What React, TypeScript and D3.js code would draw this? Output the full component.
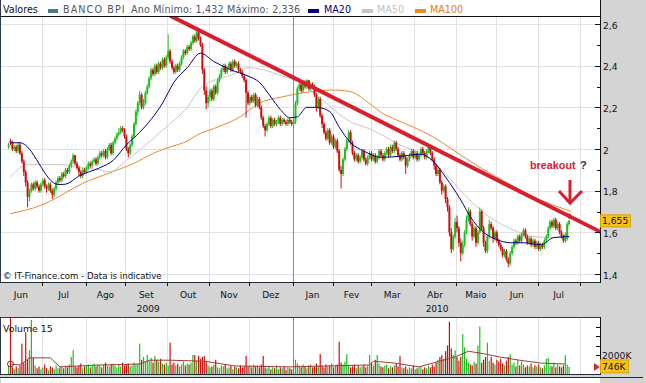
import React from "react";
import * as d3 from "d3";

// ---- data (trading-day index from Mon 1 Jun 2009) ----
const START_INDEX = 4;
const closes = [
  2.02, 2.03, 2.0, 2.01, 1.99, 2.02, 1.98,
  1.94, 1.89, 1.84, 1.77,
  1.8, 1.83, 1.81, 1.84, 1.82, 1.8, 1.83, 1.85, 1.82, 1.81, 1.83, 1.8, 1.78, 1.81,
  1.84, 1.86, 1.85, 1.88, 1.87, 1.9, 1.89, 1.92, 1.94, 1.97,
  1.93, 1.91, 1.89, 1.87,
  1.9, 1.89, 1.91, 1.93, 1.92, 1.94, 1.95, 1.93, 1.96, 1.98, 1.97, 1.99, 1.96, 2.0, 2.02, 1.98, 2.03, 2.05, 2.07, 2.08, 2.1, 2.09, 2.06,
  2.0, 1.98,
  2.02, 2.06, 2.12, 2.18, 2.22, 2.26, 2.2, 2.22, 2.27, 2.3,
  2.34, 2.38, 2.36, 2.4, 2.37, 2.41, 2.39, 2.43, 2.4, 2.44, 2.47,
  2.42, 2.39, 2.37, 2.4, 2.38, 2.41,
  2.44, 2.47, 2.46, 2.49, 2.48, 2.51, 2.54, 2.52, 2.56, 2.53, 2.5,
  2.38, 2.28, 2.22,
  2.25, 2.28, 2.24, 2.3, 2.27, 2.33, 2.35,
  2.38, 2.4, 2.37, 2.39, 2.41, 2.38, 2.42, 2.4, 2.41, 2.38, 2.37,
  2.35, 2.33,
  2.27, 2.22, 2.25, 2.23, 2.26, 2.21, 2.24, 2.2,
  2.15, 2.11, 2.09,
  2.12, 2.15, 2.11, 2.14, 2.12, 2.13, 2.15, 2.12, 2.14, 2.13, 2.12, 2.14, 2.13, 2.12, 2.13,
  2.22, 2.29,
  2.31, 2.28, 2.32, 2.3, 2.33, 2.29, 2.31, 2.3,
  2.26, 2.2, 2.24, 2.16, 2.12,
  2.08, 2.05, 2.09, 2.03, 2.06, 2.01, 2.04, 1.99,
  1.9, 1.88,
  1.95, 2.0, 2.04, 2.08, 2.03,
  1.98, 1.95, 1.97, 1.94, 1.96, 1.99, 1.95, 1.93, 1.96, 1.98, 1.95, 1.97, 1.94, 1.96, 1.99, 1.97, 1.95, 1.98, 2.0, 1.97, 2.01,
  1.99, 2.03, 2.0, 1.97, 1.95, 1.98, 1.96, 1.92, 1.95, 1.97, 1.99, 1.96, 1.98, 1.95, 1.97, 2.0, 1.98, 1.96, 1.99, 2.01, 1.98,
  1.95, 1.92, 1.88, 1.9, 1.84, 1.8, 1.82, 1.76, 1.72,
  1.6, 1.52, 1.58, 1.65, 1.62, 1.55, 1.5, 1.54,
  1.6, 1.66, 1.7, 1.64, 1.58, 1.62, 1.55, 1.6, 1.7,
  1.62, 1.55, 1.51, 1.58, 1.64, 1.62, 1.57, 1.6, 1.56,
  1.54, 1.52, 1.49, 1.51, 1.47, 1.45,
  1.5, 1.53, 1.56, 1.55, 1.58, 1.56, 1.59, 1.61, 1.58, 1.55, 1.57, 1.54, 1.56, 1.53, 1.55, 1.52, 1.54, 1.53, 1.56, 1.58,
  1.62, 1.65, 1.63, 1.66, 1.62, 1.64, 1.6,
  1.58, 1.56, 1.59, 1.64, 1.655,
];
const opens = [
  2.01, 2.04, 2.03, 2.0, 2.01, 1.99, 2.02,
  1.98, 1.94, 1.89, 1.84,
  1.77, 1.8, 1.83, 1.81, 1.84, 1.82, 1.8, 1.83, 1.85, 1.82, 1.81, 1.83, 1.8, 1.78,
  1.81, 1.84, 1.86, 1.85, 1.88, 1.87, 1.9, 1.89, 1.92, 1.94,
  1.97, 1.93, 1.91, 1.89,
  1.87, 1.9, 1.89, 1.91, 1.93, 1.92, 1.94, 1.95, 1.93, 1.96, 1.98, 1.97, 1.99, 1.96, 2.0, 2.02, 1.98, 2.03, 2.05, 2.07, 2.08, 2.1, 2.09,
  2.06, 2.0,
  1.98, 2.02, 2.06, 2.12, 2.18, 2.22, 2.26, 2.2, 2.22, 2.27,
  2.3, 2.34, 2.38, 2.36, 2.4, 2.37, 2.41, 2.39, 2.43, 2.4, 2.44,
  2.47, 2.42, 2.39, 2.37, 2.4, 2.38,
  2.41, 2.44, 2.47, 2.46, 2.49, 2.48, 2.51, 2.54, 2.52, 2.56, 2.53,
  2.5, 2.38, 2.28,
  2.22, 2.25, 2.28, 2.24, 2.3, 2.27, 2.33,
  2.35, 2.38, 2.4, 2.37, 2.39, 2.41, 2.38, 2.42, 2.4, 2.41, 2.38,
  2.37, 2.35,
  2.33, 2.27, 2.22, 2.25, 2.23, 2.26, 2.21, 2.24,
  2.2, 2.15, 2.11,
  2.09, 2.12, 2.15, 2.11, 2.14, 2.12, 2.13, 2.15, 2.12, 2.14, 2.13, 2.12, 2.14, 2.13, 2.12,
  2.13, 2.22,
  2.29, 2.31, 2.28, 2.32, 2.3, 2.33, 2.29, 2.31,
  2.3, 2.26, 2.2, 2.24, 2.16,
  2.12, 2.08, 2.05, 2.09, 2.03, 2.06, 2.01, 2.04,
  1.99, 1.9,
  1.88, 1.95, 2.0, 2.04, 2.08,
  2.03, 1.98, 1.95, 1.97, 1.94, 1.96, 1.99, 1.95, 1.93, 1.96, 1.98, 1.95, 1.97, 1.94, 1.96, 1.99, 1.97, 1.95, 1.98, 2.0, 1.97,
  2.01, 1.99, 2.03, 2.0, 1.97, 1.95, 1.98, 1.96, 1.92, 1.95, 1.97, 1.99, 1.96, 1.98, 1.95, 1.97, 2.0, 1.98, 1.96, 1.99, 2.01,
  1.98, 1.95, 1.92, 1.88, 1.9, 1.84, 1.8, 1.82, 1.76,
  1.72, 1.6, 1.52, 1.58, 1.65, 1.62, 1.55, 1.5,
  1.54, 1.6, 1.66, 1.7, 1.64, 1.58, 1.62, 1.55, 1.6,
  1.7, 1.62, 1.55, 1.51, 1.58, 1.64, 1.62, 1.57, 1.6,
  1.56, 1.54, 1.52, 1.49, 1.51, 1.47,
  1.45, 1.5, 1.53, 1.56, 1.55, 1.58, 1.56, 1.59, 1.61, 1.58, 1.55, 1.57, 1.54, 1.56, 1.53, 1.55, 1.52, 1.54, 1.53, 1.56,
  1.58, 1.62, 1.65, 1.63, 1.66, 1.62, 1.64,
  1.6, 1.58, 1.56, 1.57, 1.64,
];
const highs = [
  2.03, 2.05, 2.04, 2.02, 2.02, 2.03, 2.03,
  1.99, 1.95, 1.9, 1.85,
  1.81, 1.84, 1.84, 1.85, 1.85, 1.83, 1.84, 1.86, 1.86, 1.83, 1.84, 1.84, 1.81, 1.82,
  1.85, 1.87, 1.87, 1.89, 1.89, 1.91, 1.91, 1.93, 1.95, 1.98,
  1.97, 1.94, 1.92, 1.9,
  1.91, 1.91, 1.92, 1.94, 1.94, 1.95, 1.96, 1.96, 1.97, 1.99, 1.99, 2.0, 2.0, 2.01, 2.03, 2.03, 2.04, 2.06, 2.08, 2.1, 2.11, 2.11, 2.1,
  2.07, 2.01,
  2.03, 2.07, 2.13, 2.19, 2.23, 2.28, 2.27, 2.24, 2.28, 2.31,
  2.35, 2.39, 2.39, 2.41, 2.41, 2.42, 2.42, 2.44, 2.44, 2.45, 2.55,
  2.48, 2.43, 2.4, 2.41, 2.41, 2.42,
  2.45, 2.48, 2.48, 2.5, 2.5, 2.52, 2.55, 2.55, 2.58, 2.57, 2.54,
  2.51, 2.39, 2.3,
  2.26, 2.29, 2.29, 2.31, 2.31, 2.34, 2.36,
  2.39, 2.41, 2.41, 2.4, 2.42, 2.42, 2.43, 2.43, 2.42, 2.42, 2.39,
  2.38, 2.36,
  2.34, 2.28, 2.26, 2.26, 2.27, 2.27, 2.25, 2.25,
  2.21, 2.16, 2.12,
  2.13, 2.16, 2.16, 2.15, 2.15, 2.14, 2.16, 2.16, 2.15, 2.15, 2.14, 2.15, 2.15, 2.14, 2.14,
  2.23, 2.3,
  2.32, 2.32, 2.33, 2.33, 2.336, 2.33, 2.32, 2.32,
  2.31, 2.27, 2.25, 2.25, 2.17,
  2.13, 2.09, 2.1, 2.1, 2.07, 2.07, 2.05, 2.05,
  2.0, 1.92,
  1.96, 2.01, 2.05, 2.09, 2.09,
  2.04, 1.99, 1.98, 1.98, 1.97, 2.0, 2.0, 1.96, 1.97, 1.99, 1.99, 1.98, 1.98, 1.97, 2.0, 2.0, 1.98, 1.99, 2.01, 2.01, 2.02,
  2.02, 2.04, 2.04, 2.01, 1.98, 1.99, 1.99, 1.97, 1.96, 1.98, 2.0, 2.0, 1.99, 1.99, 1.98, 2.01, 2.01, 1.99, 2.0, 2.02, 2.02,
  1.99, 1.96, 1.93, 1.91, 1.91, 1.85, 1.83, 1.83, 1.77,
  1.73, 1.62, 1.59, 1.67, 1.68, 1.63, 1.57, 1.56,
  1.61, 1.68, 1.72, 1.71, 1.65, 1.63, 1.63, 1.61, 1.72,
  1.71, 1.63, 1.56, 1.59, 1.66, 1.65, 1.63, 1.61, 1.61,
  1.57, 1.55, 1.53, 1.52, 1.52, 1.48,
  1.51, 1.54, 1.57, 1.57, 1.59, 1.59, 1.6, 1.62, 1.62, 1.59, 1.58, 1.58, 1.57, 1.57, 1.56, 1.56, 1.55, 1.55, 1.57, 1.59,
  1.63, 1.66, 1.66, 1.67, 1.67, 1.65, 1.65,
  1.61, 1.59, 1.6, 1.65, 1.66,
];
const lows = [
  2.0, 2.02, 1.99, 1.99, 1.98, 1.98, 1.97,
  1.93, 1.87, 1.82, 1.72,
  1.75, 1.79, 1.8, 1.8, 1.81, 1.79, 1.79, 1.82, 1.81, 1.79, 1.8, 1.79, 1.76, 1.77,
  1.8, 1.83, 1.84, 1.84, 1.86, 1.86, 1.88, 1.88, 1.91, 1.93,
  1.92, 1.9, 1.87, 1.86,
  1.86, 1.88, 1.88, 1.9, 1.91, 1.91, 1.93, 1.92, 1.92, 1.95, 1.96, 1.96, 1.95, 1.95, 1.99, 1.97, 1.97, 2.02, 2.04, 2.06, 2.07, 2.08, 2.05,
  1.99, 1.96,
  1.97, 2.01, 2.05, 2.11, 2.16, 2.21, 2.19, 2.19, 2.21, 2.26,
  2.29, 2.33, 2.35, 2.35, 2.36, 2.36, 2.38, 2.38, 2.39, 2.39, 2.43,
  2.41, 2.38, 2.36, 2.36, 2.37, 2.37,
  2.4, 2.43, 2.45, 2.45, 2.47, 2.47, 2.5, 2.51, 2.51, 2.52, 2.49,
  2.36, 2.26, 2.19,
  2.2, 2.23, 2.23, 2.23, 2.26, 2.26, 2.32,
  2.34, 2.37, 2.36, 2.36, 2.38, 2.37, 2.37, 2.39, 2.39, 2.37, 2.36,
  2.34, 2.32,
  2.15, 2.21, 2.21, 2.22, 2.22, 2.2, 2.2, 2.19,
  2.14, 2.1, 2.06,
  2.08, 2.11, 2.1, 2.1, 2.11, 2.11, 2.12, 2.11, 2.11, 2.12, 2.11, 2.11, 2.12, 2.11, 2.11,
  2.12, 2.21,
  2.28, 2.27, 2.27, 2.29, 2.29, 2.28, 2.28, 2.29,
  2.25, 2.18, 2.19, 2.15, 2.1,
  2.07, 2.04, 2.04, 2.02, 2.02, 2.0, 2.0, 1.98,
  1.89, 1.81,
  1.87, 1.94, 1.99, 2.03, 2.02,
  1.97, 1.94, 1.94, 1.93, 1.93, 1.95, 1.94, 1.92, 1.92, 1.95, 1.94, 1.94, 1.93, 1.93, 1.95, 1.96, 1.94, 1.94, 1.97, 1.96, 1.96,
  1.98, 1.98, 1.99, 1.96, 1.94, 1.94, 1.95, 1.88, 1.91, 1.94, 1.96, 1.95, 1.95, 1.94, 1.94, 1.96, 1.97, 1.95, 1.95, 1.98, 1.97,
  1.94, 1.9, 1.87, 1.87, 1.83, 1.78, 1.79, 1.74, 1.7,
  1.58, 1.5, 1.51, 1.57, 1.6, 1.53, 1.46, 1.49,
  1.53, 1.59, 1.65, 1.63, 1.56, 1.57, 1.53, 1.54, 1.59,
  1.61, 1.53, 1.5, 1.5, 1.57, 1.61, 1.55, 1.56, 1.55,
  1.53, 1.51, 1.48, 1.48, 1.46, 1.432,
  1.44, 1.49, 1.52, 1.54, 1.54, 1.55, 1.55, 1.58, 1.57, 1.54, 1.54, 1.53, 1.53, 1.52, 1.52, 1.51, 1.51, 1.52, 1.52, 1.55,
  1.57, 1.61, 1.62, 1.62, 1.61, 1.61, 1.59,
  1.57, 1.55, 1.55, 1.56, 1.63,
];

const volumes = [
  900, 6200, 700, 500, 800, 600, 900,
  3200, 1200, 4400, 1500, 2500, 5700,
  1700, 900, 600, 800, 500, 700, 1000, 600, 400, 800, 700, 500, 900, 600,
  700, 800, 600, 900, 700, 1000,
  1800, 2500,
  800, 700, 900, 1100, 600, 800, 900, 1000, 700, 900, 1100, 800, 1000, 900, 700, 1000, 1200, 900, 800, 1000,
  1100, 900, 700, 1000, 800, 1200, 900, 1000, 1100, 800, 900, 1200, 1000, 1100,
  3200, 1500, 1800, 1300, 2000, 1400, 1700, 1200, 1900, 1500, 1300, 1600,
  1100, 1000, 1200, 900,
  3300,
  1000, 1200, 900, 1100, 800, 1000, 1300, 900, 1100, 1000, 1200,
  2000, 2000, 1400, 1900, 1600, 1800, 1900, 1300,
  900, 700, 800, 1000, 1500, 700, 600, 900, 800, 1000, 600, 700, 900, 500, 800, 700, 600, 900, 700, 800,
  1900,
  800, 900, 700, 1000, 800, 900, 700, 1000,
  1900,
  700, 600, 800, 500, 700, 600, 900, 500, 700, 600, 800, 400, 700, 600, 500, 800,
  1500,
  1100, 900, 700, 1000, 800, 600, 900, 1000, 700, 800, 1100, 900,
  2100,
  900, 700, 1000, 800, 900, 1100, 700, 900, 1000,
  3400,
  1200, 1000, 1300,
  2100,
  900, 700, 800, 1000, 600, 900, 700, 800, 1000, 700, 900,
  2000, 1200, 900, 1500, 2000, 1100,
  800, 700, 900, 1000, 600, 800, 700, 900, 1100, 800,
  1900,
  700, 600, 800, 500, 700, 600, 900, 500, 600, 700, 800, 500, 700, 600, 900, 700, 1000, 800,
  1200, 1500, 1800, 2000, 1600, 2400, 3000,
  5500,
  2700, 2000, 2500, 1800, 1400, 1800, 4200, 2800, 1600, 1200, 1000, 900, 1300, 1100, 3000, 5000, 1200, 1500, 1800, 3300,
  1400, 1800, 1200, 1000, 1500, 1300, 1600, 1100, 900, 1400, 1800, 2100, 1000, 1200, 800, 1500, 900, 1300, 1000, 700,
  900, 800, 1100, 700, 900, 800, 1000, 700, 600, 900, 1600, 1700, 900, 800, 1200, 700, 1000, 800, 700, 900,
  2000, 1000, 746,
];

const ma20: [number, number][] = [[5, 2.03], [10, 2.03], [30, 1.83], [33, 1.83], [42, 1.875], [52, 1.91], [59, 1.945], [66, 2.02], [73, 2.08], [85, 2.22], [91, 2.32], [98, 2.39], [105, 2.46], [112, 2.42], [121, 2.38], [130, 2.35], [136, 2.32], [142, 2.25], [147, 2.19], [152, 2.15], [156, 2.155], [161, 2.2], [166, 2.2], [173, 2.18], [178, 2.105], [184, 2.03], [191, 1.99], [200, 1.96], [210, 1.965], [221, 1.975], [227, 1.945], [234, 1.865], [242, 1.755], [247, 1.675], [254, 1.6], [261, 1.565], [268, 1.55], [275, 1.55], [284, 1.54], [291, 1.575], [299, 1.58]];
const ma50: [number, number][] = [[5, 1.865], [14, 1.925], [33, 1.925], [38, 1.915], [52, 1.9], [57, 1.89], [66, 1.945], [73, 1.995], [85, 2.09], [98, 2.2], [106, 2.3], [121, 2.355], [130, 2.39], [138, 2.38], [148, 2.35], [157, 2.32], [166, 2.26], [175, 2.19], [184, 2.13], [193, 2.1], [200, 2.07], [210, 2.02], [221, 1.98], [227, 1.945], [236, 1.86], [245, 1.77], [257, 1.675], [270, 1.61], [280, 1.58], [291, 1.575], [299, 1.575]];
const ma100: [number, number][] = [[5, 1.69], [21, 1.73], [27, 1.755], [43, 1.835], [57, 1.885], [72, 1.94], [78, 1.97], [89, 2.01], [96, 2.03], [105, 2.075], [114, 2.105], [126, 2.155], [136, 2.22], [148, 2.25], [163, 2.275], [175, 2.283], [184, 2.275], [193, 2.225], [201, 2.17], [208, 2.14], [217, 2.105], [227, 2.06], [238, 1.995], [248, 1.935], [259, 1.875], [270, 1.82], [280, 1.77], [291, 1.73], [300, 1.7]];
const volMA: [number, number][] = [[5, 1050], [10, 950], [15, 1700], [26, 1700], [31, 750], [52, 950], [73, 1050], [78, 1450], [89, 1450], [107, 1350], [123, 850], [152, 750], [173, 850], [194, 950], [196, 1350], [207, 1150], [220, 750], [239, 1800], [246, 2400], [255, 2100], [262, 1800], [273, 1450], [284, 1150], [297, 1050]];
const trendLine: [number, number][] = [[89, 2.64], [316, 1.6]];

const monthNames = ["Jun", "Jul", "Ago", "Set", "Out", "Nov", "Dez", "Jan", "Fev", "Mar", "Abr", "Maio", "Jun", "Jul"];
const yearLabels = [{ text: "2009", month: 3 }, { text: "2010", month: 10 }];
const priceTicks = [1.4, 1.6, 1.8, 2.0, 2.2, 2.4, 2.6];
const minorTicks = [1.5, 1.7, 1.9, 2.1, 2.3, 2.5];
const volTicks = [2000, 3000, 4000, 5000];
const lastPrice = 1.655;
const lastVolume = 746;

const FONT = "DejaVu Sans, Verdana, sans-serif";
const UP = "#1fbf1f";
const DOWN = "#cc1010";

export default function App() {
  const x = d3.scaleLinear().domain([0, 305]).range([1, 580.5]);
  const y = d3.scaleLinear().domain([1.4, 2.6]).range([274, 24]);
  const yv = d3.scaleLinear().domain([0, 6000]).range([374, 317]);

  const days: Date[] = [];
  for (let d = new Date(2009, 5, 1); d <= new Date(2010, 7, 2); d.setDate(d.getDate() + 1)) {
    if (d.getDay() % 6 !== 0) days.push(new Date(d));
  }
  const monthStarts: number[] = [];
  days.forEach((d, i) => {
    if (i === 0 || d.getMonth() !== days[i - 1].getMonth()) monthStarts.push(i);
  });
  const bx = (i: number) => x(i) - 1;

  const lineP = d3.line<[number, number]>().x((d) => x(d[0])).y((d) => y(d[1])).curve(d3.curveMonotoneX);
  const lineV = d3.line<[number, number]>().x((d) => x(d[0])).y((d) => yv(d[1]));

  const n = Math.min(closes.length, opens.length, highs.length, lows.length);
  const candles = d3.range(n).map((k) => ({ i: START_INDEX + k, o: opens[k], c: closes[k], h: highs[k], l: lows[k], v: volumes[k] ?? 0 }));
  const lastI = START_INDEX + n - 1;

  return (
    <svg width={646} height={383} style={{ position: "fixed", left: 0, top: 0, background: "#d4d4d4" }} fontFamily={FONT}>
      <defs>
        <clipPath id="plot"><rect x={1} y={17} width={599} height={265} /></clipPath>
        <clipPath id="vol"><rect x={1} y={318} width={599} height={57} /></clipPath>
      </defs>
      <rect x={0} y={0} width={646} height={383} fill="#d4d4d4" />
      {/* main panel */}
      <rect x={1} y={0} width={599} height={282} fill="#ffffff" />
      {priceTicks.map((t) => (
        <line key={"h" + t} x1={1} x2={600} y1={Math.round(y(t)) + 0.5} y2={Math.round(y(t)) + 0.5} stroke="#e2e2e2" />
      ))}
      {monthStarts.slice(1).map((m, k) => (
        <line key={"v" + m} x1={Math.round(bx(m)) + 0.5} x2={Math.round(bx(m)) + 0.5} y1={17} y2={282}
          stroke={monthNames[k + 1] === "Jan" ? "#8a8a8a" : "#e2e2e2"} />
      ))}
      <g clipPath="url(#plot)">
        <path d={lineP(ma100) || ""} fill="none" stroke="#e8892e" strokeWidth={1} />
        <path d={lineP(ma50) || ""} fill="none" stroke="#c6c6c6" strokeWidth={1} />
        {candles.map((c) => {
          const col = c.c >= c.o ? UP : DOWN;
          const top = y(Math.max(c.o, c.c));
          const h = Math.max(1.2, Math.abs(y(c.o) - y(c.c)));
          return (
            <g key={"c" + c.i}>
              <line x1={x(c.i)} x2={x(c.i)} y1={y(c.h)} y2={y(c.l)} stroke={col} strokeWidth={1} />
              <rect x={x(c.i) - 1} y={top} width={2} height={h} fill={col} />
            </g>
          );
        })}
        <path d={lineP(ma20) || ""} fill="none" stroke="#000080" strokeWidth={1} />
        <path d={d3.line<[number, number]>().x((d) => x(d[0])).y((d) => y(d[1]))(trendLine) || ""} fill="none" stroke="#d6202e" strokeWidth={4} />
      </g>
      {/* legend */}
      <line x1={1} x2={600} y1={16.5} y2={16.5} stroke="#111" />
      <text x={3} y={13} fontSize={9.6} fill="#111">Valores</text>
      <rect x={48} y={9} width={10} height={4} fill="#4f7893" />
      <text x={63} y={13} fontSize={9.6} fill="#4b5966" letterSpacing={1.1}>BANCO BPI</text>
      <text x={131} y={13} fontSize={9.6} fill="#4b5966" letterSpacing={0.15}>Ano Mínimo: 1,432 Máximo: 2,336</text>
      <rect x={308} y={9} width={11} height={4} fill="#000080" />
      <text x={324} y={13} fontSize={9.6} fill="#000080">MA20</text>
      <rect x={362} y={9} width={11} height={4} fill="#c6c6c6" />
      <text x={377} y={13} fontSize={9.6} fill="#c2c2c2">MA50</text>
      <rect x={415} y={9} width={11} height={4} fill="#e8892e" />
      <text x={430} y={13} fontSize={9.6} fill="#e07a22">MA100</text>
      {/* annotation */}
      <text x={530} y={169} fontSize={10.8} fontWeight="bold" fill="#d6202e" fontFamily="Liberation Sans, Arial, sans-serif">breakout</text>
      <text x={580} y={169} fontSize={11} fontWeight="bold" fill="#333" fontFamily="Liberation Sans, Arial, sans-serif">?</text>
      <g stroke="#d6202e" strokeWidth={3} fill="none">
        <line x1={570} x2={570} y1={180} y2={202} />
        <polyline points="559,191 570,203 582,191" />
      </g>
      <line x1={x(lastI) + 0.5} x2={x(lastI) + 0.5} y1={y(1.69)} y2={y(1.665)} stroke="#d6202e" strokeWidth={2} />
      <text x={3} y={279} fontSize={8.6} fill="#111">© IT-Finance.com - Data is indicative</text>
      {/* borders */}
      <line x1={0.5} x2={0.5} y1={0} y2={282} stroke="#2b3b4b" />
      <line x1={0} x2={600} y1={282.5} y2={282.5} stroke="#1e2a36" />
      <line x1={600.5} x2={600.5} y1={0} y2={283} stroke="#111" />
      {/* right price axis */}
      {priceTicks.map((t) => (
        <g key={"pt" + t}>
          <line x1={595} x2={600} y1={Math.round(y(t)) + 0.5} y2={Math.round(y(t)) + 0.5} stroke="#111" />
          <text x={603} y={y(t) + 4.5} fontSize={9.2} fill="#111">{d3.format(".1f")(t).replace(".", ",").replace(",0", "")}</text>
        </g>
      ))}
      {minorTicks.map((t) => (
        <line key={"mt" + t} x1={597} x2={600} y1={Math.round(y(t)) + 0.5} y2={Math.round(y(t)) + 0.5} stroke="#111" />
      ))}
      <rect x={600.5} y={y(lastPrice) - 6} width={30} height={12} fill="#f6c21a" stroke="#d9a400" />
      <text x={602} y={y(lastPrice) + 3.5} fontSize={9.2} fill="#111">{String(lastPrice).replace(".", ",")}</text>
      {/* time axis */}
      {monthStarts.slice(1).map((m) => (
        <line key={"bt" + m} x1={Math.round(bx(m)) + 0.5} x2={Math.round(bx(m)) + 0.5} y1={282} y2={286} stroke="#111" />
      ))}
      {monthNames.map((name, k) => (
        <text key={"mn" + k} x={(bx(monthStarts[k]) + bx(monthStarts[k + 1])) / 2} y={298} fontSize={9} textAnchor="middle" fill="#111">{name}</text>
      ))}
      {yearLabels.map((yl) => (
        <text key={yl.text} x={(bx(monthStarts[yl.month]) + bx(monthStarts[yl.month + 1])) / 2 + 2} y={312} fontSize={9} textAnchor="middle" fill="#111">{yl.text}</text>
      ))}
      {/* volume panel */}
      <rect x={1} y={317} width={599} height={58} fill="#ffffff" />
      {monthStarts.slice(1).map((m, k) => (
        <line key={"vv" + m} x1={Math.round(bx(m)) + 0.5} x2={Math.round(bx(m)) + 0.5} y1={318} y2={375}
          stroke={monthNames[k + 1] === "Jan" ? "#8a8a8a" : "#e2e2e2"} />
      ))}
      <g clipPath="url(#vol)">
        {candles.map((c) => (
          <rect key={"vb" + c.i} x={x(c.i) - 0.6} y={yv(c.v)} width={1.2} height={374 - yv(c.v)} fill={c.c >= c.o ? UP : DOWN} />
        ))}
        <path d={lineV(volMA) || ""} fill="none" stroke="#a03a3a" strokeWidth={1} />
        <circle cx={x(volMA[0][0])} cy={yv(volMA[0][1])} r={3} fill="none" stroke="#8a3030" />
      </g>
      <text x={3} y={332} fontSize={9.4} fill="#111">Volume 15</text>
      <line x1={0} x2={600} y1={317.5} y2={317.5} stroke="#2b3b4b" />
      <line x1={0.5} x2={0.5} y1={317} y2={375} stroke="#2b3b4b" />
      <line x1={0} x2={600} y1={374.5} y2={374.5} stroke="#1e2a36" />
      <line x1={600.5} x2={600.5} y1={317} y2={375} stroke="#111" />
      {volTicks.map((t) => (
        <line key={"vt" + t} x1={596} x2={600} y1={Math.round(yv(t)) + 0.5} y2={Math.round(yv(t)) + 0.5} stroke="#111" />
      ))}
      <text x={602} y={359} fontSize={9.2} fill="#111">2000K</text>
      <polygon points={`594,${yv(lastVolume) - 4} 600,${yv(lastVolume)} 594,${yv(lastVolume) + 4}`} fill="#c03030" />
      <rect x={600.5} y={yv(lastVolume) - 7} width={28} height={13} fill="#f6c21a" stroke="#d9a400" />
      <text x={602} y={yv(lastVolume) + 3} fontSize={9.2} fill="#111">{lastVolume}K</text>
      {/* next panel edge */}
      <line x1={0} x2={643} y1={377.5} y2={377.5} stroke="#1e2a36" />
      <rect x={1} y={378} width={599} height={5} fill="#ffffff" />
    </svg>
  );
}
